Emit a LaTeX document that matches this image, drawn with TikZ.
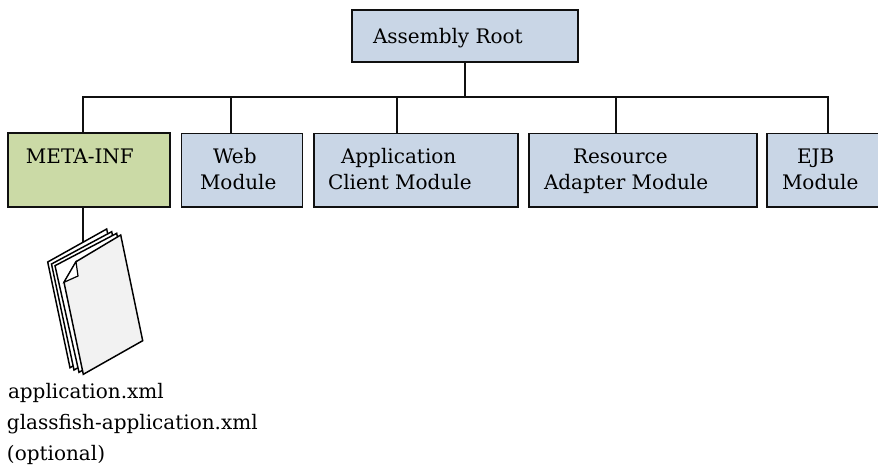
\documentclass[tikz,border=0pt]{standalone}
\usepackage{fontspec}
\setmainfont{DejaVu Serif}
\definecolor{boxblue}{HTML}{C9D6E6}
\definecolor{boxgreen}{HTML}{CBDAA6}
\definecolor{linedark}{HTML}{101010}
\definecolor{pagefill}{HTML}{F2F2F2}
\tikzset{
  x=0.75pt,y=-0.75pt,
  modbox/.style={draw=linedark,line width=1.25pt,fill=boxblue,inner sep=0pt,outer sep=0pt},
  metabox/.style={modbox,fill=boxgreen},
  wire/.style={draw=linedark,line width=1.15pt},
  lbl/.style={anchor=base west,inner sep=0pt,outer sep=0pt,text=black,font=\fontsize{15pt}{18pt}\selectfont},
  page/.style={draw=black,line width=1.1pt,fill=white,line join=miter},
  frontpage/.style={draw=black,line width=1.1pt,fill=pagefill,line join=miter}
}
\newcommand{\boxat}[6]{\node[#1,minimum width=#4*0.75pt,minimum height=#5*0.75pt,anchor=north west] (#6) at (#2,#3) {};}
\begin{document}
\begin{tikzpicture}
\useasboundingbox (0,0) rectangle (878,468);
\clip (0,0) rectangle (878,468);
% boxes
\boxat{modbox}{352}{10}{226}{52}{root}
\boxat{metabox}{8}{133}{162}{74}{meta}
\boxat{modbox}{181.5}{133.5}{121}{73.5}{web}
\boxat{modbox}{314}{133.5}{204}{73.5}{appc}
\boxat{modbox}{529}{133.5}{228}{73.5}{res}
\boxat{modbox}{767}{133.5}{125}{73.5}{ejb}
% connectors
\coordinate (busl) at (83,97);
\coordinate (busw) at (231,97);
\coordinate (busa) at (397,97);
\coordinate (busr) at (616,97);
\coordinate (busj) at (828,97);
\coordinate (doctop) at (83,243);
\draw[wire] (root.south) -- (root.south |- busl);
\draw[wire] (meta.north -| busl) -- (busl) -- (busj) -- (busj |- ejb.north);
\draw[wire] (busw) -- (busw |- web.north);
\draw[wire] (busa) -- (busa |- appc.north);
\draw[wire] (busr) -- (busr |- res.north);
\draw[wire] (meta.south -| doctop) -- (doctop);
% document stack
\draw[page] (47.7,262) -- (106.7,229) -- (128,335) -- (70,367.7) -- cycle;
\draw[page] (51.5,264) -- (111.7,231.7) -- (133,337) -- (74,370) -- cycle;
\draw[page] (55,265.7) -- (116.7,233.3) -- (138,339) -- (79,372.3) -- cycle;
\draw[frontpage] (76,261.7) -- (120.7,235) -- (142.7,340.7) -- (83.3,374.3) -- (64,282.3) -- cycle;
\draw[page,line width=0.9pt] (76,261.7) -- (78,276) -- (64,282.3) -- cycle;
% labels
\node[lbl] (t1) at (373,43) {Assembly Root};
\node[lbl] (t2) at (26,163) {META-INF};
\node[lbl] (t3) at (213,163) {Web};
\node[lbl] (t4) at (200,189) {Module};
\node[lbl] (t5) at (341,163) {Application};
\node[lbl] (t6) at (328,189) {Client Module};
\node[lbl] (t7) at (573,163) {Resource};
\node[lbl] (t8) at (544,189) {Adapter Module};
\node[lbl] (t9) at (797,163) {EJB};
\node[lbl] (t10) at (782,189) {Module};
\node[lbl] (t11) at (8,398) {application.xml};
\node[lbl] (t12) at (7,429) {glassfish-application.xml};
\node[lbl] (t13) at (7,460) {(optional)};
\end{tikzpicture}
\end{document}
